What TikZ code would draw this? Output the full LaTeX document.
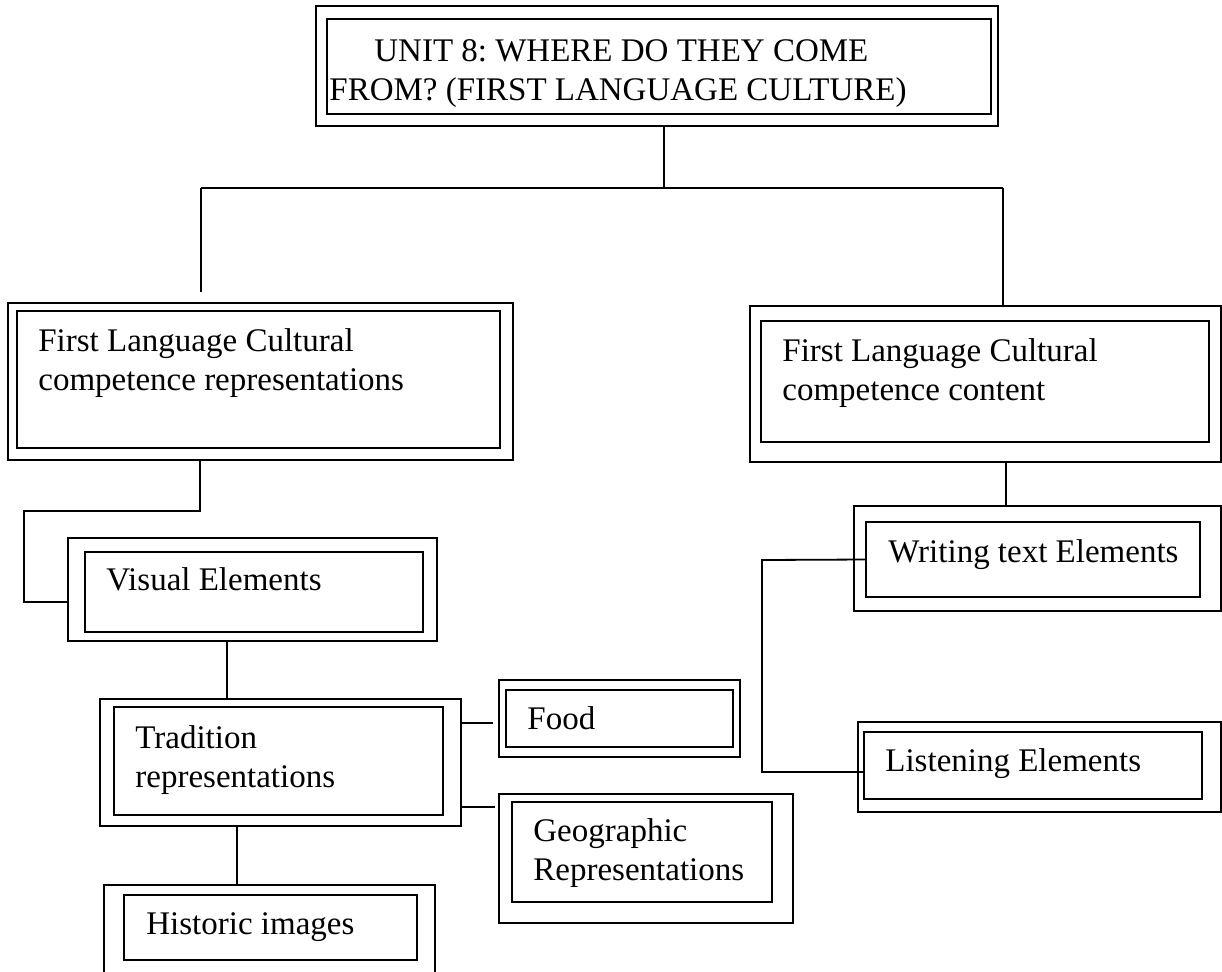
\documentclass[tikz,border=0pt]{standalone}
\usepackage{fontspec}
\setmainfont{Liberation Serif}
\usetikzlibrary{fit,calc}

\begin{document}
\begin{tikzpicture}[x=0.5pt,y=-0.5pt,
    outbox/.style={draw, line width=0.9pt, inner sep=0pt},
    inbox/.style={draw, line width=0.9pt, inner sep=0pt},
    lbl/.style={anchor=base west, inner sep=0pt, align=left,
                font=\fontsize{16.5}{19.5}\selectfont\frenchspacing},
    link/.style={line width=0.9pt}]
    \useasboundingbox (0,0) rectangle (1222,971);
    \clip (0,0) rectangle (1222,971);

    % Boxes (outer frame, inner frame)
    \node[outbox, fit={(316,6) (998,126)}] (unitout) {};
    \node[inbox, fit={(327,19) (991,114)}] (unitin) {};
    \node[outbox, fit={(8,303) (513,460)}] (repout) {};
    \node[inbox, fit={(17,311) (500,448)}] (repin) {};
    \node[outbox, fit={(750,306) (1221,462)}] (contout) {};
    \node[inbox, fit={(761,321) (1209,442)}] (contin) {};
    \node[outbox, fit={(68,538) (437,641)}] (visout) {};
    \node[inbox, fit={(85,552) (423,632)}] (visin) {};
    \node[outbox, fit={(854,506) (1221,611)}] (writout) {};
    \node[inbox, fit={(866,522) (1200,597)}] (writin) {};
    \node[outbox, fit={(100,699) (461,826)}] (tradout) {};
    \node[inbox, fit={(114,707) (443,815)}] (tradin) {};
    \node[outbox, fit={(499,680) (740,757)}] (foodout) {};
    \node[inbox, fit={(506,690) (733,747)}] (foodin) {};
    \node[outbox, fit={(499,794) (793,923)}] (geoout) {};
    \node[inbox, fit={(512,802) (772,902)}] (geoin) {};
    \node[outbox, fit={(858,722) (1221,812)}] (listout) {};
    \node[inbox, fit={(864,732) (1202,799)}] (listin) {};
    \node[outbox, fit={(104,885) (435,995)}] (histout) {};
    \node[inbox, fit={(124,895) (417,960)}] (histin) {};

    % Labels (two-line labels sit on their last line)
    \node[lbl] (unittxt) at (329,100) {\hspace*{22.5pt}UNIT 8: WHERE DO THEY COME\\FROM? (FIRST LANGUAGE CULTURE)};
    \node[lbl] (reptxt) at (38,390) {First Language Cultural\\competence representations};
    \node[lbl] (conttxt) at (782,400) {First Language Cultural\\competence content};
    \node[lbl] (vistxt) at (106,590) {Visual Elements};
    \node[lbl] (writtxt) at (888,562) {Writing text Elements};
    \node[lbl] (tradtxt) at (135,787) {Tradition\\representations};
    \node[lbl] (foodtxt) at (527,729) {Food};
    \node[lbl] (geotxt) at (533,880) {Geographic\\Representations};
    \node[lbl] (listtxt) at (885,771) {Listening Elements};
    \node[lbl] (histtxt) at (146,934) {Historic images};

    % Connectors
    \coordinate (hub) at (664,188);
    \coordinate (hl) at (201,188);
    \coordinate (hr) at (1003,188);
    \coordinate (kneeL) at (24,511);
    \coordinate (kneeR) at (762,560);
    \draw[link] (unitout.south -| hub) -- (hub);
    \draw[link] (hl) -- (hr);
    \draw[link, shorten >=5pt] (hl) -- (repout.north -| hl);
    \draw[link] (hr) -- (contout.north -| hr);
    \draw[link] (repout.south -| 200,0) |- (kneeL) |- (visout.west |- 0,602);
    \draw[link] (visout.south -| 227,0) -- (tradout.north -| 227,0);
    \draw[link, shorten >=2.5pt] (tradout.east |- 0,723) -- (foodout.west |- 0,723);
    \draw[link, shorten >=1.5pt] (tradout.east |- 0,807) -- (geoout.west |- 0,807);
    \draw[link] (tradout.south -| 237,0) -- (histout.north -| 237,0);
    \draw[link] (contout.south -| 1006,0) -- (writout.north -| 1006,0);
    \draw[link] (writin.west) -- (kneeR) |- (listin.west |- 0,772);
\end{tikzpicture}
\end{document}
